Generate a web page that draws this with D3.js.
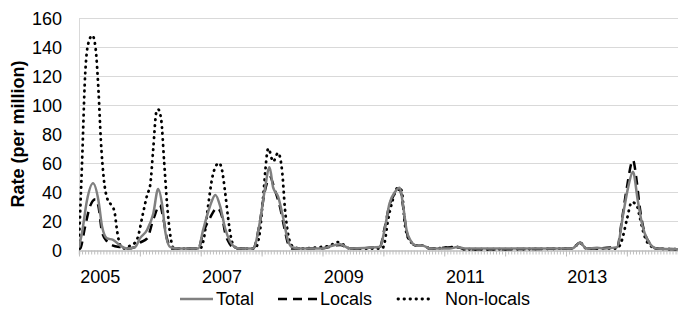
<!DOCTYPE html>
<html>
<head>
<meta charset="utf-8">
<script src="https://cdn.jsdelivr.net/npm/d3@7"></script>
<style>
  body { margin: 0; background: #fff; }
  svg { display: block; font-family: "Liberation Sans", Arial, sans-serif; }
</style>
</head>
<body>
<div id="chart"></div>
<script>
// datos (tiempo en anos decimales, tasa por millon)
const yearLabels = [2005, 2007, 2009, 2011, 2013];
const yTicks = [0, 20, 40, 60, 80, 100, 120, 140, 160];
const seriesNames = ["Total", "Locals", "Non-locals"];

const total = [
  [2004.66, 2], [2004.71, 12], [2004.79, 34], [2004.89, 46], [2004.98, 34], [2005.04, 16],
  [2005.12, 8], [2005.22, 7], [2005.34, 3], [2005.45, 1], [2005.58, 2], [2005.66, 8],
  [2005.78, 14], [2005.88, 25], [2005.96, 42], [2006.03, 30], [2006.08, 12], [2006.16, 2],
  [2006.32, 1], [2006.62, 1], [2006.70, 14], [2006.81, 30], [2006.90, 38], [2006.98, 30],
  [2007.06, 15], [2007.14, 6], [2007.22, 2], [2007.31, 1], [2007.52, 1], [2007.63, 19],
  [2007.71, 41], [2007.79, 57], [2007.85, 43], [2007.93, 37], [2008.01, 23], [2008.09, 7],
  [2008.16, 2], [2008.29, 1], [2008.62, 1], [2008.95, 4], [2009.11, 1], [2009.60, 2],
  [2009.68, 14], [2009.76, 32], [2009.85, 40], [2009.93, 43], [2009.98, 32], [2010.04, 14],
  [2010.10, 7], [2010.21, 3], [2010.31, 3], [2010.43, 1], [2010.75, 1], [2010.87, 2],
  [2011.00, 1], [2012.76, 1], [2012.89, 5], [2013.00, 1], [2013.17, 1.5], [2013.30, 1],
  [2013.50, 2], [2013.60, 25], [2013.68, 43], [2013.76, 54], [2013.84, 34], [2013.92, 16],
  [2014.00, 7], [2014.15, 1], [2014.50, 0.5]
];

const locals = [
  [2004.66, 0.5], [2004.68, 1], [2004.76, 16], [2004.84, 30], [2004.93, 35], [2004.98, 30],
  [2005.04, 12], [2005.12, 6], [2005.22, 3], [2005.34, 2], [2005.45, 1], [2005.58, 2],
  [2005.66, 5], [2005.78, 8], [2005.88, 21], [2005.99, 31], [2006.04, 23], [2006.11, 7],
  [2006.19, 1], [2006.62, 1], [2006.70, 12], [2006.81, 22], [2006.93, 29], [2007.01, 23],
  [2007.06, 12], [2007.14, 4], [2007.22, 1], [2007.52, 1], [2007.63, 19], [2007.71, 40],
  [2007.80, 50], [2007.88, 41], [2007.96, 30], [2008.04, 14], [2008.09, 5], [2008.16, 1],
  [2008.62, 1], [2008.95, 3.5], [2009.11, 1], [2009.60, 2], [2009.68, 15], [2009.76, 31],
  [2009.85, 39], [2009.93, 42], [2009.98, 31], [2010.04, 13], [2010.10, 6], [2010.21, 3],
  [2010.31, 3], [2010.43, 1], [2010.87, 2], [2011.00, 0.5], [2012.76, 1], [2012.89, 5],
  [2013.00, 1], [2013.50, 2], [2013.58, 21], [2013.66, 43], [2013.76, 62], [2013.82, 48],
  [2013.87, 30], [2013.95, 12], [2014.03, 5], [2014.15, 1], [2014.50, 0.5]
];

const nonLocals = [
  [2004.66, 6], [2004.71, 60], [2004.76, 120], [2004.81, 142], [2004.88, 148], [2004.93, 140],
  [2004.98, 110], [2005.02, 75], [2005.07, 48], [2005.12, 36], [2005.19, 31], [2005.24, 27],
  [2005.29, 12], [2005.34, 3], [2005.42, 1], [2005.50, 3], [2005.58, 5], [2005.62, 8],
  [2005.71, 25], [2005.78, 38], [2005.83, 45], [2005.88, 70], [2005.93, 95], [2005.96, 97],
  [2006.01, 90], [2006.06, 60], [2006.11, 30], [2006.16, 10], [2006.22, 1], [2006.65, 1],
  [2006.72, 10], [2006.78, 30], [2006.85, 50], [2006.91, 58], [2006.96, 60], [2007.01, 55],
  [2007.06, 40], [2007.11, 22], [2007.16, 8], [2007.22, 2], [2007.31, 1], [2007.55, 1],
  [2007.63, 12], [2007.68, 34], [2007.77, 70], [2007.85, 61], [2007.93, 67], [2008.00, 53],
  [2008.04, 30], [2008.09, 12], [2008.16, 3], [2008.29, 1], [2008.62, 2], [2008.78, 3],
  [2008.91, 5.5], [2009.03, 3], [2009.11, 1], [2009.64, 1], [2009.68, 5], [2009.73, 19],
  [2009.81, 34], [2009.90, 43], [2009.96, 41], [2010.01, 19], [2010.06, 9], [2010.21, 3],
  [2010.31, 3], [2010.43, 1], [2010.87, 2], [2011.00, 0.5], [2012.76, 1], [2012.89, 5],
  [2013.00, 1], [2013.50, 1], [2013.58, 7], [2013.66, 21], [2013.74, 33], [2013.82, 31],
  [2013.87, 23], [2013.92, 14], [2014.00, 5], [2014.15, 1], [2014.50, 0.5]
];

const W = 678, H = 320;
const mLeft = 79, mRight = 678, mTop = 18, mBottom = 250;
const t0 = 2004.66, t1 = 2014.5;

const svg = d3.select("#chart").append("svg")
  .attr("width", W).attr("height", H);

const x = d3.scaleLinear().domain([t0, t1]).range([mLeft, mRight]);
const y = d3.scaleLinear().domain([0, 160]).range([mBottom, mTop]);

// rejilla horizontal
svg.append("g")
  .selectAll("line")
  .data(yTicks.filter(d => d > 0))
  .enter().append("line")
  .attr("x1", mLeft).attr("x2", mRight)
  .attr("y1", d => y(d) + 0.5).attr("y2", d => y(d) + 0.5)
  .attr("stroke", "#d9d9d9").attr("stroke-width", 1);

// borde izquierdo
svg.append("line")
  .attr("x1", mLeft + 0.5).attr("x2", mLeft + 0.5)
  .attr("y1", mTop).attr("y2", mBottom)
  .attr("stroke", "#d9d9d9");

// eje Y
const yAxis = svg.append("g")
  .attr("transform", `translate(${mLeft - 17},0)`)
  .call(d3.axisLeft(y).tickValues(yTicks).tickSize(0).tickPadding(0));
yAxis.select(".domain").remove();
yAxis.selectAll("text").style("font-size", "18px").attr("fill", "#000").attr("dy", "0.36em");

// eje X: marcas menores, mayores y etiquetas
const minorTicks = d3.range(t0, t1 + 0.0001, 1 / 20);
const majorTicks = d3.range(t0, t1 + 0.0001, 1);

const xMinor = svg.append("g")
  .attr("transform", `translate(0,${mBottom + 0.5})`)
  .call(d3.axisBottom(x).tickValues(minorTicks).tickSize(4).tickFormat(""));
xMinor.select(".domain").attr("stroke", "#bfbfbf").attr("stroke-width", 1.5);
xMinor.selectAll(".tick line").attr("stroke", "#bfbfbf");

const xMajor = svg.append("g")
  .attr("transform", `translate(0,${mBottom + 0.5})`)
  .call(d3.axisBottom(x).tickValues(majorTicks).tickSize(6).tickFormat(""));
xMajor.select(".domain").remove();
xMajor.selectAll(".tick line").attr("stroke", "#bfbfbf");

const xLab = svg.append("g")
  .attr("transform", `translate(0,${mBottom})`)
  .call(d3.axisBottom(x).tickValues(yearLabels).tickSize(0).tickPadding(20).tickFormat(d3.format("d")));
xLab.select(".domain").remove();
xLab.selectAll("text").style("font-size", "18px").attr("fill", "#000");

// titulo eje Y
svg.append("text")
  .attr("transform", `translate(24,${(mTop + mBottom) / 2}) rotate(-90)`)
  .attr("text-anchor", "middle")
  .style("font-size", "18px")
  .style("font-weight", "bold")
  .attr("fill", "#000")
  .text("Rate (per million)");

// lineas
const line = d3.line()
  .x(d => x(d[0]))
  .y(d => y(d[1]))
  .curve(d3.curveMonotoneX);

const styles = [
  { color: "#808080", width: 2.5, dash: null, cap: "butt" },
  { color: "#000000", width: 2.5, dash: "9,6", cap: "butt" },
  { color: "#000000", width: 2.8, dash: "0.5,5.5", cap: "round" }
];
const allSeries = [total, locals, nonLocals];

svg.append("defs").append("clipPath").attr("id", "plot")
  .append("rect").attr("x", mLeft).attr("y", 0).attr("width", mRight - mLeft).attr("height", mBottom + 2);

const plot = svg.append("g").attr("clip-path", "url(#plot)");
[2, 1, 0].forEach(i => {
  plot.append("path")
    .datum(allSeries[i])
    .attr("fill", "none")
    .attr("stroke", styles[i].color)
    .attr("stroke-width", styles[i].width)
    .attr("stroke-dasharray", styles[i].dash)
    .attr("stroke-linecap", styles[i].cap)
    .attr("stroke-linejoin", "round")
    .attr("d", line);
});

// leyenda
const legendX = [180, 278, 398];
const legendLen = [33, 39, 36];
const legY = 299;
const leg = svg.append("g");
seriesNames.forEach((name, i) => {
  leg.append("line")
    .attr("x1", legendX[i]).attr("x2", legendX[i] + legendLen[i])
    .attr("y1", legY).attr("y2", legY)
    .attr("stroke", styles[i].color)
    .attr("stroke-width", styles[i].width)
    .attr("stroke-dasharray", styles[i].dash)
    .attr("stroke-linecap", styles[i].cap);
  leg.append("text")
    .attr("x", legendX[i] + legendLen[i] + (i === 2 ? 11 : 3))
    .attr("y", legY + 6)
    .style("font-size", "18px")
    .attr("fill", "#000")
    .text(name);
});
</script>
</body>
</html>
